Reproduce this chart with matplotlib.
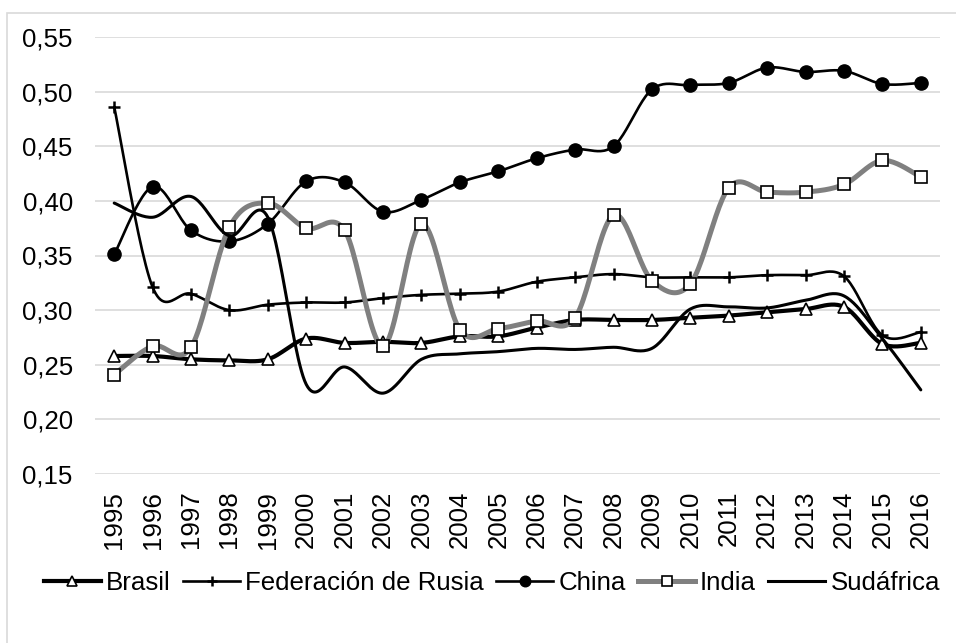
import numpy as np
import matplotlib
matplotlib.use('Agg')
import matplotlib.pyplot as plt
from matplotlib.lines import Line2D
from matplotlib.patches import Rectangle

plt.rcParams['font.family'] = ['Liberation Sans', 'DejaVu Sans']

years = ['1995', '1996', '1997', '1998', '1999', '2000', '2001', '2002', '2003', '2004', '2005',
         '2006', '2007', '2008', '2009', '2010', '2011', '2012', '2013', '2014', '2015', '2016']

brasil = [0.258, 0.258, 0.255, 0.254, 0.255, 0.274, 0.270, 0.271, 0.270, 0.276, 0.276,
          0.284, 0.291, 0.291, 0.291, 0.293, 0.295, 0.298, 0.301, 0.303, 0.269, 0.270]
rusia = [0.486, 0.321, 0.315, 0.300, 0.305, 0.307, 0.307, 0.311, 0.314, 0.315, 0.317,
         0.326, 0.330, 0.333, 0.330, 0.330, 0.330, 0.332, 0.332, 0.331, 0.277, 0.280]
china = [0.351, 0.413, 0.373, 0.363, 0.379, 0.418, 0.417, 0.390, 0.401, 0.417, 0.427,
         0.439, 0.447, 0.450, 0.502, 0.506, 0.508, 0.522, 0.518, 0.519, 0.507, 0.508]
india = [0.241, 0.267, 0.266, 0.376, 0.398, 0.375, 0.373, 0.267, 0.379, 0.282, 0.283,
         0.290, 0.293, 0.387, 0.327, 0.324, 0.412, 0.408, 0.408, 0.415, 0.437, 0.422]
sudafrica = [0.398, 0.385, 0.404, 0.368, 0.385, 0.232, 0.248, 0.224, 0.255, 0.260, 0.262,
             0.265, 0.264, 0.266, 0.265, 0.301, 0.303, 0.302, 0.309, 0.313, 0.274, 0.227]

series_names = ['Brasil', 'Federación de Rusia', 'China', 'India', 'Sudáfrica']
yticks = [0.15, 0.20, 0.25, 0.30, 0.35, 0.40, 0.45, 0.50, 0.55]
ytick_labels = ['0,15', '0,20', '0,25', '0,30', '0,35', '0,40', '0,45', '0,50', '0,55']

FS = 18.6


def smooth(yv, n=24):
    """Excel-like smoothed line: cubic Bezier (Catmull-Rom) through the points."""
    pts = np.column_stack([np.arange(len(yv), dtype=float), np.asarray(yv, float)])
    out = []
    m = len(pts)
    for i in range(m - 1):
        p0 = pts[i - 1] if i > 0 else pts[i]
        p1 = pts[i]
        p2 = pts[i + 1]
        p3 = pts[i + 2] if i + 2 < m else pts[i + 1]
        c1 = p1 + (p2 - p0) / 6.0
        c2 = p2 - (p3 - p1) / 6.0
        t = np.linspace(0, 1, n, endpoint=(i == m - 2))[:, None]
        b = ((1 - t) ** 3) * p1 + 3 * ((1 - t) ** 2) * t * c1 + 3 * (1 - t) * t ** 2 * c2 + t ** 3 * p2
        out.append(b)
    out = np.vstack(out)
    return out[:, 0], out[:, 1]


W, H = 956, 643
fig = plt.figure(figsize=(W / 100, H / 100), dpi=100)
fig.patch.set_facecolor('white')

# outer chart frame (cropped at right and bottom)
fig.add_artist(Rectangle((7 / W, -0.05), (965 - 7) / W, 1 - 13 / H + 0.05,
                         transform=fig.transFigure, fill=False,
                         edgecolor='#d9d9d9', lw=1.2))

ax = fig.add_axes([95 / W, 1 - 474 / H, (940 - 95) / W, (474 - 37) / H])
ax.set_facecolor('white')

x = np.arange(len(years))

styles = [
    dict(data=brasil, color='black', lw=3.0, marker='^', ms=9, mfc='white', mec='black', mew=1.2),
    dict(data=rusia, color='black', lw=1.9, marker='+', ms=9, mfc='black', mec='black', mew=1.8),
    dict(data=china, color='black', lw=1.9, marker='o', ms=9.5, mfc='black', mec='black', mew=1.0),
    dict(data=india, color='#808080', lw=3.6, marker='s', ms=9, mfc='white', mec='black', mew=1.2),
    dict(data=sudafrica, color='black', lw=2.2, marker=None, ms=0, mfc='none', mec='none', mew=0),
]

handles = []
for k, (name, st) in enumerate(zip(series_names, styles)):
    sx, sy = smooth(st['data'])
    ax.plot(sx, sy, color=st['color'], lw=st['lw'], solid_capstyle='round',
            solid_joinstyle='round', zorder=3 + k)
    if st['marker']:
        ax.plot(x, st['data'], linestyle='none', marker=st['marker'], ms=st['ms'],
                mfc=st['mfc'], mec=st['mec'], mew=st['mew'], zorder=3.5 + k)
    handles.append(Line2D([], [], color=st['color'], lw=st['lw'],
                          marker=st['marker'] if st['marker'] else None,
                          ms=st['ms'] * 0.8, mfc=st['mfc'], mec=st['mec'], mew=st['mew']))

ax.set_xlim(-0.5, len(years) - 0.5)
ax.set_ylim(0.15, 0.55)
ax.set_yticks(yticks)
ax.set_yticklabels(ytick_labels)
ax.set_xticks(x)
ax.set_xticklabels(years, rotation=90, va='top', ha='center')

for s in ax.spines.values():
    s.set_visible(False)
ax.yaxis.grid(True, color='#d9d9d9', lw=1.2, zorder=0)
ax.set_axisbelow(True)
ax.tick_params(axis='both', length=0, labelsize=FS, colors='black')
ax.tick_params(axis='y', pad=16)
ax.tick_params(axis='x', pad=12)

fig.legend(handles, series_names, loc='center', bbox_to_anchor=(492 / W, 1 - 583 / H),
           ncol=5, frameon=False, fontsize=FS, handlelength=2.2, handletextpad=0.2,
           columnspacing=0.48, borderpad=0, borderaxespad=0)

fig.savefig('out.png', dpi=100, facecolor='white')
